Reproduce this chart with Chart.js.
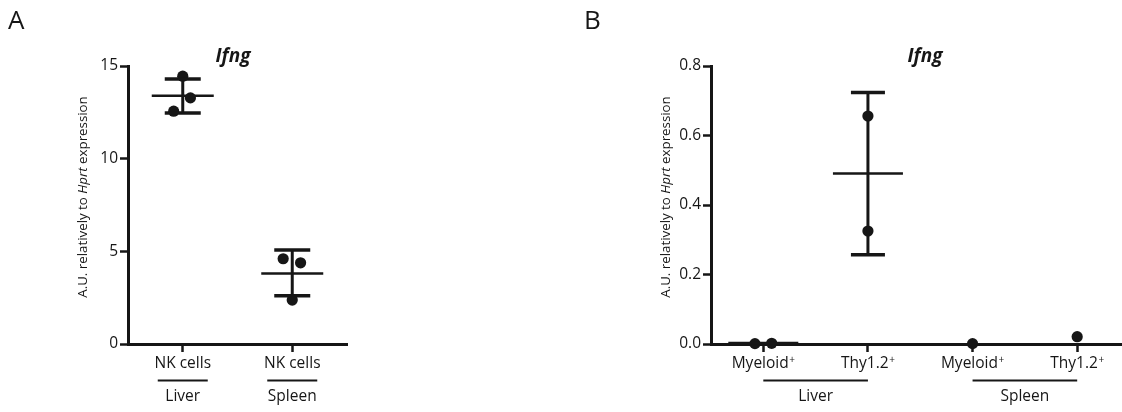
<!DOCTYPE html>
<html><head><meta charset="utf-8">
<script src="https://cdn.jsdelivr.net/npm/chart.js@4.4.0/dist/chart.umd.min.js"></script>
<style>
html,body{margin:0;padding:0;background:#fff;overflow:hidden;width:1122px;height:412px;position:relative}
#a{position:absolute;left:0;top:0;width:360px;height:412px}
#b{position:absolute;left:560px;top:0;width:580px;height:412px}
</style></head><body>
<div id="a"><canvas id="ca"></canvas></div>
<div id="b"><canvas id="cb"></canvas></div>
<script>
// ---------- Panel A data ----------
const aCategories = ['NK cells', 'NK cells'];
const aGroups = ['Liver', 'Spleen'];
const aLiver = [14.45, 13.28, 12.56];
const aSpleen = [4.60, 4.38, 2.37];
const aLiverJitter = [0, 0.07, -0.083];
const aSpleenJitter = [-0.083, 0.076, 0];
const aMean = [13.39, 3.81];
const aErrHigh = [14.30, 5.07];
const aErrLow = [12.47, 2.60];
const aYTicks = [0, 5, 10, 15];

// ---------- Panel B data ----------
const bCategories = ['Myeloid', 'Thy1.2', 'Myeloid', 'Thy1.2'];
const bGroups = ['Liver', 'Spleen'];
const bLiverMyeloid = [0.001, 0.002];
const bLiverThy = [0.656, 0.325];
const bSpleenMyeloid = [0.001];
const bSpleenThy = [0.021];
const bLiverMyeloidJitter = [-0.08, 0.08];
const bMean = [0.003, 0.491, null, null];
const bErrHigh = [null, 0.724, null, null];
const bErrLow = [null, 0.257, null, null];
const bYTicks = [0, 0.2, 0.4, 0.6, 0.8];

const INK = '#161616';
const FONT = '"Open Sans", "Noto Sans", sans-serif';
const LABEL_PX = 15.5;

function pts(catIndex, values, jitter) {
  return values.map((v, k) => ({ x: catIndex + 1 + (jitter ? jitter[k] : 0), y: v }));
}

function makeDecor(c) {
  return {
    id: 'decor',
    afterDatasetsDraw(chart) {
      const { ctx, chartArea: ca, scales: { x, y } } = chart;
      ctx.save();
      ctx.strokeStyle = INK; ctx.fillStyle = INK; ctx.lineCap = 'butt';
      const seg = (x1, y1, x2, y2, w) => { ctx.lineWidth = w; ctx.beginPath(); ctx.moveTo(x1, y1); ctx.lineTo(x2, y2); ctx.stroke(); };
      // error bars / means
      c.mean.forEach((m, i) => {
        const px = x.getPixelForValue(i + 1);
        if (c.high[i] != null) {
          const yh = y.getPixelForValue(c.high[i]), yl = y.getPixelForValue(c.low[i]);
          seg(px, yh, px, yl, 3);
          seg(px - c.capHalf, yh, px + c.capHalf, yh, 3.5);
          seg(px - c.capHalf, yl, px + c.capHalf, yl, 3.5);
        }
        if (m != null) {
          const ym = y.getPixelForValue(m);
          seg(px - c.meanHalf, ym, px + c.meanHalf, ym, 2.5);
        }
      });
      // panel letter
      ctx.font = '26px ' + FONT; ctx.textAlign = 'left'; ctx.textBaseline = 'alphabetic';
      ctx.fillText(c.letter, c.letterX, 29);
      // title
      ctx.font = 'italic bold 19px ' + FONT; ctx.textAlign = 'center'; ctx.textBaseline = 'middle';
      ctx.fillText(c.title, c.titleX, 57);
      // y title (mixed italic)
      const parts = [['A.U. relatively to ', false], ['Hprt', true], [' expression', false]];
      const fontOf = it => (it ? 'italic ' : '') + '13.3px ' + FONT;
      let total = 0;
      parts.forEach(p => { ctx.font = fontOf(p[1]); total += ctx.measureText(p[0]).width; });
      ctx.save();
      ctx.translate(ca.left - 45, (ca.top + ca.bottom) / 2 - 8);
      ctx.rotate(-Math.PI / 2);
      ctx.textAlign = 'left'; ctx.textBaseline = 'middle';
      let cx = -total / 2;
      parts.forEach(p => { ctx.font = fontOf(p[1]); ctx.fillText(p[0], cx, 0); cx += ctx.measureText(p[0]).width; });
      ctx.restore();
      // category labels
      c.categories.forEach((name, i) => {
        const px = x.getPixelForValue(i + 1);
        const ly = ca.bottom + 20;
        ctx.font = LABEL_PX + 'px ' + FONT;
        const w = ctx.measureText(name).width;
        let sw = 0;
        if (c.sup) { ctx.font = '10px ' + FONT; sw = ctx.measureText('+').width + 0.5; }
        const start = px - (w + sw) / 2;
        ctx.textAlign = 'left'; ctx.textBaseline = 'middle';
        ctx.font = LABEL_PX + 'px ' + FONT; ctx.fillText(name, start, ly);
        if (c.sup) { ctx.font = '10px ' + FONT; ctx.fillText('+', start + w + 0.5, ly - 4); }
      });
      // group underline + labels
      c.groups.forEach((g, gi) => {
        const [s, e] = c.spans[gi];
        const ps = x.getPixelForValue(s + 1), pe = x.getPixelForValue(e + 1);
        const lineY = ca.bottom + 36.5;
        if (s === e) seg(ps - 25, lineY, ps + 25, lineY, 1.8);
        else seg(ps, lineY, pe, lineY, 1.8);
        ctx.font = LABEL_PX + 'px ' + FONT; ctx.textAlign = 'center'; ctx.textBaseline = 'middle';
        ctx.fillText(g, (ps + pe) / 2, ca.bottom + 53);
      });
      ctx.restore();
    }
  };
}

function makeChart(id, c) {
  const axisCommon = {
    grid: { display: true, drawOnChartArea: false, drawTicks: true, tickLength: 8, tickWidth: 2.5, tickColor: INK },
    border: { display: true, width: 3, color: INK }
  };
  return new Chart(document.getElementById(id), {
    type: 'scatter',
    data: {
      datasets: c.series.map(s => ({
        data: s, pointRadius: 5.6, pointHoverRadius: 5.6, backgroundColor: INK, borderWidth: 0, clip: false, showLine: false
      }))
    },
    options: {
      responsive: true, maintainAspectRatio: false, animation: false, devicePixelRatio: 1,
      layout: { padding: { left: 0, top: 66, right: c.padRight, bottom: 0 } },
      plugins: { legend: { display: false }, tooltip: { enabled: false }, title: { display: false } },
      events: [],
      scales: {
        x: Object.assign({}, axisCommon, {
          type: 'linear', min: 0.5, max: c.categories.length + 0.5,
          afterBuildTicks: s => { s.ticks = c.categories.map((_, i) => ({ value: i + 1 })); },
          ticks: { display: false },
          afterFit: s => { s.height = 68; }
        }),
        y: Object.assign({}, axisCommon, {
          type: 'linear', min: c.yTicks[0], max: c.yTicks[c.yTicks.length - 1],
          afterBuildTicks: s => { s.ticks = c.yTicks.map(v => ({ value: v })); },
          ticks: { display: true, color: INK, padding: 2, font: { family: FONT, size: 15.5 },
                   callback: v => c.fmt(v) },
          afterFit: s => { s.width = c.yWidth; }
        })
      }
    },
    plugins: [makeDecor(c)]
  });
}

makeChart('ca', {
  series: [pts(0, aLiver, aLiverJitter), pts(1, aSpleen, aSpleenJitter)],
  categories: aCategories, groups: aGroups, spans: [[0, 0], [1, 1]], sup: false,
  mean: aMean, high: aErrHigh, low: aErrLow, yTicks: aYTicks,
  fmt: v => String(v), yWidth: 128, padRight: 13,
  meanHalf: 31, capHalf: 18, letter: 'A', letterX: 8, title: 'Ifng', titleX: 233
});

makeChart('cb', {
  series: [pts(0, bLiverMyeloid, bLiverMyeloidJitter), pts(1, bLiverThy), pts(2, bSpleenMyeloid), pts(3, bSpleenThy)],
  categories: bCategories, groups: bGroups, spans: [[0, 1], [2, 3]], sup: true,
  mean: bMean, high: bErrHigh, low: bErrLow, yTicks: bYTicks,
  fmt: v => v.toFixed(1), yWidth: 151, padRight: 10.5,
  meanHalf: 35, capHalf: 17, letter: 'B', letterX: 24, title: 'Ifng', titleX: 365
});
</script>
</body></html>
